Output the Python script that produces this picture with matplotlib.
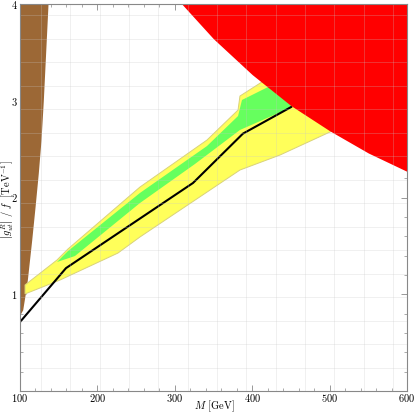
import numpy as np
import matplotlib
matplotlib.use("Agg")
import matplotlib.pyplot as plt
from matplotlib.ticker import MultipleLocator, FixedLocator

plt.rcParams['font.family'] = 'serif'
plt.rcParams['font.serif'] = ['cmr10', 'DejaVu Serif']
plt.rcParams['mathtext.fontset'] = 'cm'
plt.rcParams['axes.formatter.use_mathtext'] = True

# ---- data ----
brown_y = [0.79, 0.84, 0.99, 1.15, 1.56, 1.90, 2.25, 2.59, 3.00, 4.00]
brown_x = [100, 103.5, 106.5, 109.5, 115.1, 119.4, 123.6, 127.1, 130.1, 136.2]

yellow_up_x = [106.5, 147.8, 162.0, 255.0, 341.6, 381.7, 384.2, 416.5, 449.0]
yellow_up_y = [1.096, 1.354, 1.468, 2.108, 2.594, 2.904, 3.049, 3.214, 3.318]
yellow_lo_x = [106.5, 151.7, 226.6, 255.0, 384.2, 435.9, 500.5, 520.0]
yellow_lo_y = [1.003, 1.147, 1.426, 1.592, 2.284, 2.439, 2.677, 2.760]

green_up_x = [147.8, 162.0, 255.0, 341.6, 381.7, 386.8, 423.0, 462.0]
green_up_y = [1.333, 1.447, 2.047, 2.532, 2.842, 3.008, 3.152, 3.270]
green_lo_x = [147.8, 171.0, 255.0, 326.0, 384.2, 451.4, 475.0]
green_lo_y = [1.333, 1.395, 1.943, 2.346, 2.698, 2.935, 3.008]

line_x = [100, 159.4, 323.5, 388.0, 451.4]
line_y = [0.713, 1.27, 2.15, 2.66, 2.94]

red_x = [309, 350, 400, 450, 500, 550, 600]
red_y = [4.00, 3.64, 3.27, 2.95, 2.69, 2.46, 2.27]

xticks = [100, 200, 300, 400, 500, 600]
yticks = [1, 2, 3, 4]

# ---- figure ----
fig = plt.figure(figsize=(4.15, 4.13), dpi=100)
ax = fig.add_axes([20/415, 1-391/413, 387/415, 387/413])
ax.set_xlim(100, 600)
ax.set_ylim(0, 4)

ax.fill_betweenx(brown_y, 100, brown_x, color='#9c6836', lw=0, zorder=2)

yp_x = yellow_up_x + yellow_lo_x[::-1]
yp_y = yellow_up_y + yellow_lo_y[::-1]
ax.fill(yp_x, yp_y, facecolor='#ffff5a', edgecolor='#d9d27a', lw=0.7, zorder=3)

gp_x = green_up_x + green_lo_x[::-1]
gp_y = green_up_y + green_lo_y[::-1]
ax.fill(gp_x, gp_y, facecolor='#66ff5e', edgecolor='none', lw=0, zorder=4)

ax.plot(line_x, line_y, color='black', lw=1.5, zorder=5, solid_capstyle='butt')

ax.fill_between(red_x, red_y, 4, color='#ff0000', lw=0, zorder=6)

# faint mesh grid drawn over everything
gx = [127 + 37.9*k for k in range(13)]
gy = [0.238 + 0.2432*k for k in range(16)]
for v in gx:
    ax.axvline(v, color='#c8c8c8', lw=0.6, alpha=0.3, zorder=7)
for v in gy:
    ax.axhline(v, color='#c8c8c8', lw=0.6, alpha=0.3, zorder=7)

ax.xaxis.set_major_locator(FixedLocator(xticks))
ax.yaxis.set_major_locator(FixedLocator(yticks))
ax.xaxis.set_minor_locator(MultipleLocator(20))
ax.yaxis.set_minor_locator(MultipleLocator(0.2))
ax.tick_params(which='both', direction='in', top=True, right=True,
               color='#888888', labelsize=7.5)
ax.tick_params(axis='x', pad=0.5)
ax.tick_params(axis='y', pad=1.5)
ax.tick_params(which='major', length=4, width=0.6)
ax.tick_params(which='minor', length=2, width=0.5)
for s in ax.spines.values():
    s.set_color('#888888')
    s.set_linewidth(0.8)
    s.set_zorder(10)

ax.set_xlabel(r'$M$ [GeV]', fontsize=7.5, va='center')
ax.xaxis.set_label_coords(0.501, -0.039)
ax.set_ylabel(r'$\left|g_{ut}^{R}\right|\ /\ f\ \ [\mathrm{TeV}^{-1}]$', fontsize=7.5, va='center')
ax.yaxis.set_label_coords(-0.031, 0.494)

fig.savefig('out.png', dpi=100)
